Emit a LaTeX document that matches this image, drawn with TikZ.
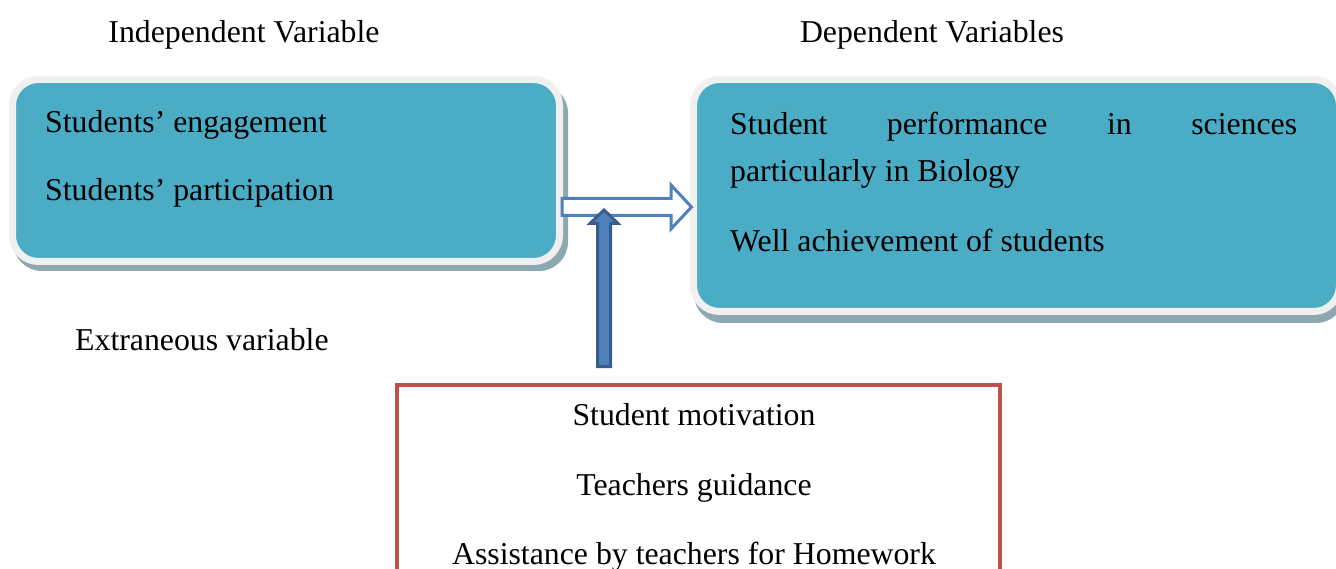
\documentclass[tikz,border=0pt]{standalone}
\usepackage{fontspec}
\setmainfont{Liberation Serif}
\usetikzlibrary{calc}
\definecolor{teal5}{HTML}{4BACC6}
\definecolor{rimw}{HTML}{F0F0F0}
\definecolor{shadowg}{HTML}{8EA8B1}
\definecolor{blueA}{HTML}{4F81BD}
\definecolor{blueD}{HTML}{385D8A}
\definecolor{redB}{HTML}{C0504D}
\tikzset{
  x=1pt, y=-1pt,
  txt/.style={font=\fontsize{31.8pt}{38pt}\selectfont, inner sep=0pt, anchor=base west},
  ctxt/.style={font=\fontsize{31.8pt}{38pt}\selectfont, inner sep=0pt, anchor=base},
  varbox/.style={draw=rimw, fill=teal5, line width=7pt, rounded corners=26pt, inner sep=0pt},
  boxshadow/.style={fill=shadowg, rounded corners=29pt},
  redbox/.style={draw=redB, line width=4pt, inner sep=0pt},
  hollowarrow/.style={draw=blueA, fill=white, line width=3pt, line join=miter},
  solidarrow/.style={draw=blueD, fill=blueA, line width=3pt, line join=miter}
}
\begin{document}
\begin{tikzpicture}
\path[use as bounding box, clip] (0,0) rectangle (1336,569);
\fill[white] (0,0) rectangle (1336,569);

% titles
\node[ctxt] (tI) at (244,43) {Independent Variable};
\node[ctxt] (tD) at (932,43) {Dependent Variables};
\node[txt]  (tE) at (75,351) {Extraneous variable};

% shadows
\fill[boxshadow] (13,84) rectangle (568,271);
\fill[boxshadow] (694,84) rectangle (1345,323);

% independent box
\node[varbox, minimum width=547pt, minimum height=182pt] (L) at (286,170.5) {};
\node[txt] (l1) at (45,133) {Students’ engagement};
\node[txt] (l2) at (45,201) {Students’ participation};

% dependent box
\node[varbox, minimum width=646pt, minimum height=232pt] (R) at (1016.5,195.5) {};
\node[txt] (r1) at (730,135) {\makebox[567pt][s]{Student performance in sciences}};
\node[txt] (r2) at (730,182) {particularly in Biology};
\node[txt] (r3) at (730,252) {Well achievement of students};

% extraneous box
\node[redbox, minimum width=603pt, minimum height=260pt, anchor=north west] (E) at (395,383) {};
\node[ctxt] (e1) at (694,425) {Student motivation};
\node[ctxt] (e2) at (694,495) {Teachers guidance};
\node[ctxt] (e3) at (694,564) {Assistance by teachers for Homework};

% hollow arrow from L to R
\coordinate (hs) at ($(L.east |- 0,207)+(-1,0)$);
\coordinate (ht) at ($(R.west |- 0,207)+(1.5,0)$);
\draw[hollowarrow] ($(hs)+(0,-8.5)$) -- ($(ht)+(-20.5,-8.5)$) -- ($(ht)+(-20.5,-22)$) -- (ht)
  -- ($(ht)+(-20.5,22)$) -- ($(ht)+(-20.5,8.5)$) -- ($(hs)+(0,8.5)$) -- cycle;

% solid arrow from E up to the hollow arrow
\coordinate (vs) at ($(E.north -| 604,0)+(0,-16.5)$);
\coordinate (vt) at (604,210);
\draw[solidarrow] ($(vs)+(-6.5,0)$) -- ($(vt)+(-6.5,13.5)$) -- ($(vt)+(-14,13.5)$) -- (vt)
  -- ($(vt)+(14,13.5)$) -- ($(vt)+(6.5,13.5)$) -- ($(vs)+(6.5,0)$) -- cycle;
\end{tikzpicture}
\end{document}
